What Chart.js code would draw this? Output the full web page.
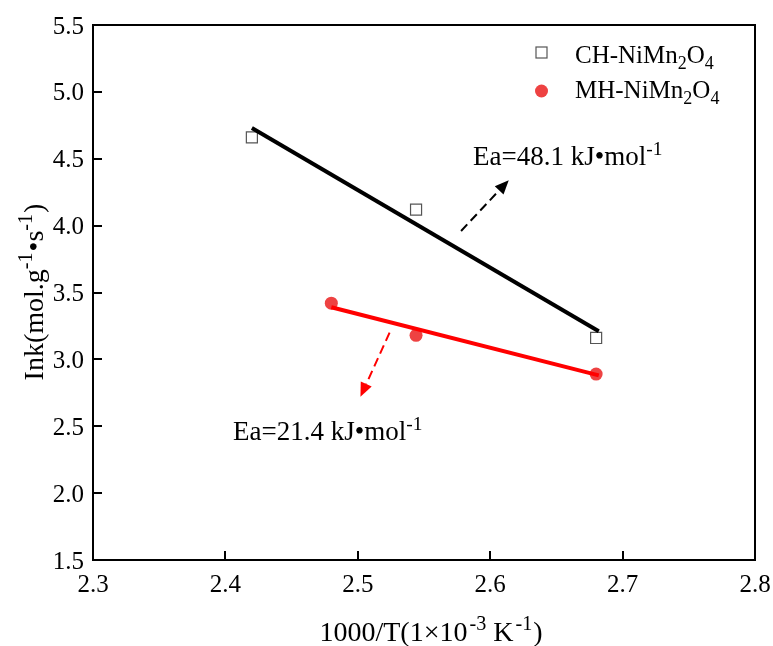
<!DOCTYPE html>
<html><head><meta charset="utf-8">
<script src="https://cdn.jsdelivr.net/npm/chart.js@4/dist/chart.umd.min.js"></script>
<style>html,body{margin:0;padding:0;background:#fff}#wrap{width:773px;height:646px}</style>
</head><body><div id="wrap"><canvas id="c" width="773" height="646"></canvas></div>
<script>
// ---- data ----
const chX = [2.42, 2.544, 2.68];
const chY = [4.66, 4.12, 3.16];
const mhX = [2.48, 2.544, 2.68];
const mhY = [3.42, 3.18, 2.89];
const chFitX = [2.42, 2.682];
const chFitY = [4.73, 3.21];
const mhFitX = [2.48, 2.682];
const mhFitY = [3.39, 2.88];
const xTicks = [2.3, 2.4, 2.5, 2.6, 2.7, 2.8];
const yTicks = [1.5, 2.0, 2.5, 3.0, 3.5, 4.0, 4.5, 5.0, 5.5];
const legendCH = [['CH-NiMn','n'],['2','sub'],['O','n'],['4','sub']];
const legendMH = [['MH-NiMn','n'],['2','sub'],['O','n'],['4','sub']];
const eaCH = [['Ea=48.1 kJ\u2022mol','n'],['-1','sup']];
const eaMH = [['Ea=21.4 kJ\u2022mol','n'],['-1','sup']];
const xTitle = [['1000/T(1\u00d710','n'],[2,'gap'],['-3','sup'],[7,'gap'],['K','n'],[2,'gap'],['-1','sup'],[1,'gap'],[')','n']];
const yTitle = [['Ink(mol.g','n'],['-1','sup'],[1,'gap'],['\u2022s','n'],['-1','sup'],[1,'gap'],[')','n']];
// arrows in data coords: [x0,y0,x1,y1]
const arrowCH = [2.578, 3.96, 2.614, 4.34];
const arrowMH = [2.524, 3.20, 2.502, 2.72];

const FONT = '"Liberation Serif", serif';
const pts = (xs, ys) => xs.map((x, i) => ({x, y: ys[i]}));

function partSize(k, size) { return k === 'n' ? size : size * 0.72; }
function richWidth(ctx, parts, size) {
  let w = 0;
  for (const [t, k] of parts) {
    if (k === 'gap') { w += t; continue; }
    ctx.font = partSize(k, size) + 'px ' + FONT;
    w += ctx.measureText(t).width;
  }
  return w;
}
function drawRich(ctx, x, y, parts, size, align) {
  const w = richWidth(ctx, parts, size);
  let cx = align === 'center' ? x - w / 2 : x;
  ctx.textBaseline = 'alphabetic';
  ctx.textAlign = 'left';
  ctx.fillStyle = '#000';
  for (const [t, k] of parts) {
    if (k === 'gap') { cx += t; continue; }
    ctx.font = partSize(k, size) + 'px ' + FONT;
    const dy = k === 'sup' ? -size * 0.38 : (k === 'sub' ? size * 0.22 : 0);
    ctx.fillText(t, cx, y + dy);
    cx += ctx.measureText(t).width;
  }
}
function arrow(ctx, xs, ys, a, color) {
  const x0 = xs.getPixelForValue(a[0]), y0 = ys.getPixelForValue(a[1]);
  const x1 = xs.getPixelForValue(a[2]), y1 = ys.getPixelForValue(a[3]);
  const ang = Math.atan2(y1 - y0, x1 - x0);
  const hl = 14, hw = 6;
  const bx = x1 - hl * Math.cos(ang), by = y1 - hl * Math.sin(ang);
  ctx.save();
  ctx.strokeStyle = color; ctx.fillStyle = color; ctx.lineWidth = 2;
  ctx.setLineDash([9, 5]);
  ctx.beginPath(); ctx.moveTo(x0, y0); ctx.lineTo(bx, by); ctx.stroke();
  ctx.setLineDash([]);
  ctx.beginPath();
  ctx.moveTo(x1, y1);
  ctx.lineTo(bx + hw * Math.sin(ang), by - hw * Math.cos(ang));
  ctx.lineTo(bx - hw * Math.sin(ang), by + hw * Math.cos(ang));
  ctx.closePath(); ctx.fill();
  ctx.restore();
}

const deco = {
  id: 'deco',
  afterDraw(chart) {
    const ctx = chart.ctx, xs = chart.scales.x, ys = chart.scales.y, a = chart.chartArea;
    ctx.save();
    // top/right frame
    ctx.strokeStyle = '#000'; ctx.lineWidth = 2;
    ctx.beginPath();
    ctx.moveTo(a.left, a.top); ctx.lineTo(a.right, a.top); ctx.lineTo(a.right, a.bottom);
    ctx.stroke();
    // inward tick marks
    ctx.beginPath();
    xs.ticks.forEach(t => { const p = Math.round(xs.getPixelForValue(t.value)); if (p > a.left + 2 && p < a.right - 2) { ctx.moveTo(p, a.bottom); ctx.lineTo(p, a.bottom - 9); } });
    ys.ticks.forEach(t => { const p = Math.round(ys.getPixelForValue(t.value)); if (p < a.bottom - 2) { ctx.moveTo(a.left, p); ctx.lineTo(a.left + 9, p); } });
    ctx.stroke();
    // tick labels from the scales
    ctx.fillStyle = '#000';
    ctx.font = '25px ' + FONT;
    ctx.textBaseline = 'alphabetic';
    ctx.textAlign = 'center';
    xs.ticks.forEach(t => ctx.fillText(t.value.toFixed(1), xs.getPixelForValue(t.value), a.bottom + 32));
    ctx.textAlign = 'right';
    ys.ticks.forEach(t => ctx.fillText(t.value.toFixed(1), a.left - 9, ys.getPixelForValue(t.value) + 8.5));
    // arrows + annotations
    arrow(ctx, xs, ys, arrowCH, '#000');
    arrow(ctx, xs, ys, arrowMH, '#ff0000');
    drawRich(ctx, 473, 165, eaCH, 27, 'left');
    drawRich(ctx, 233, 440, eaMH, 27, 'left');
    // legend
    ctx.strokeStyle = '#555'; ctx.lineWidth = 1.2;
    ctx.strokeRect(536, 47, 11, 11);
    ctx.fillStyle = '#EE4242';
    ctx.beginPath(); ctx.arc(541.5, 91, 6.5, 0, Math.PI * 2); ctx.fill();
    drawRich(ctx, 575, 63, legendCH, 25, 'left');
    drawRich(ctx, 575, 98, legendMH, 25, 'left');
    // axis titles
    drawRich(ctx, 431, 641, xTitle, 28, 'center');
    ctx.save();
    ctx.translate(43, 292);
    ctx.rotate(-Math.PI / 2);
    drawRich(ctx, 0, 0, yTitle, 28, 'center');
    ctx.restore();
    ctx.restore();
  }
};

new Chart(document.getElementById('c'), {
  type: 'scatter',
  data: {
    datasets: [
      { label: 'CH fit', data: pts(chFitX, chFitY), showLine: true, borderColor: '#000', borderWidth: 4, pointRadius: 0, fill: false },
      { label: 'MH fit', data: pts(mhFitX, mhFitY), showLine: true, borderColor: '#ff0000', borderWidth: 4, pointRadius: 0, fill: false },
      { label: 'CH-NiMn2O4', data: pts(chX, chY), pointStyle: 'rect', pointRadius: 7.8, borderColor: '#555', borderWidth: 1.2, backgroundColor: 'rgba(255,255,255,0)' },
      { label: 'MH-NiMn2O4', data: pts(mhX, mhY), pointStyle: 'circle', pointRadius: 6.5, borderWidth: 0, backgroundColor: '#EE4242', borderColor: '#EE4242' }
    ]
  },
  options: {
    responsive: false,
    animation: false,
    layout: { padding: { top: 25, right: 18, left: 0, bottom: 0 }, autoPadding: false },
    plugins: { legend: { display: false }, tooltip: { enabled: false } },
    scales: {
      x: {
        type: 'linear', min: 2.3, max: 2.8,
        afterBuildTicks: s => { s.ticks = xTicks.map(v => ({value: v})); },
        afterFit: s => { s.height = 86; },
        grid: { display: false, drawTicks: false },
        border: { display: true, color: '#000', width: 2 },
        ticks: { display: false }
      },
      y: {
        type: 'linear', min: 1.5, max: 5.5,
        afterBuildTicks: s => { s.ticks = yTicks.map(v => ({value: v})); },
        afterFit: s => { s.width = 93; },
        grid: { display: false, drawTicks: false },
        border: { display: true, color: '#000', width: 2 },
        ticks: { display: false }
      }
    }
  },
  plugins: [deco]
});
</script></body></html>
